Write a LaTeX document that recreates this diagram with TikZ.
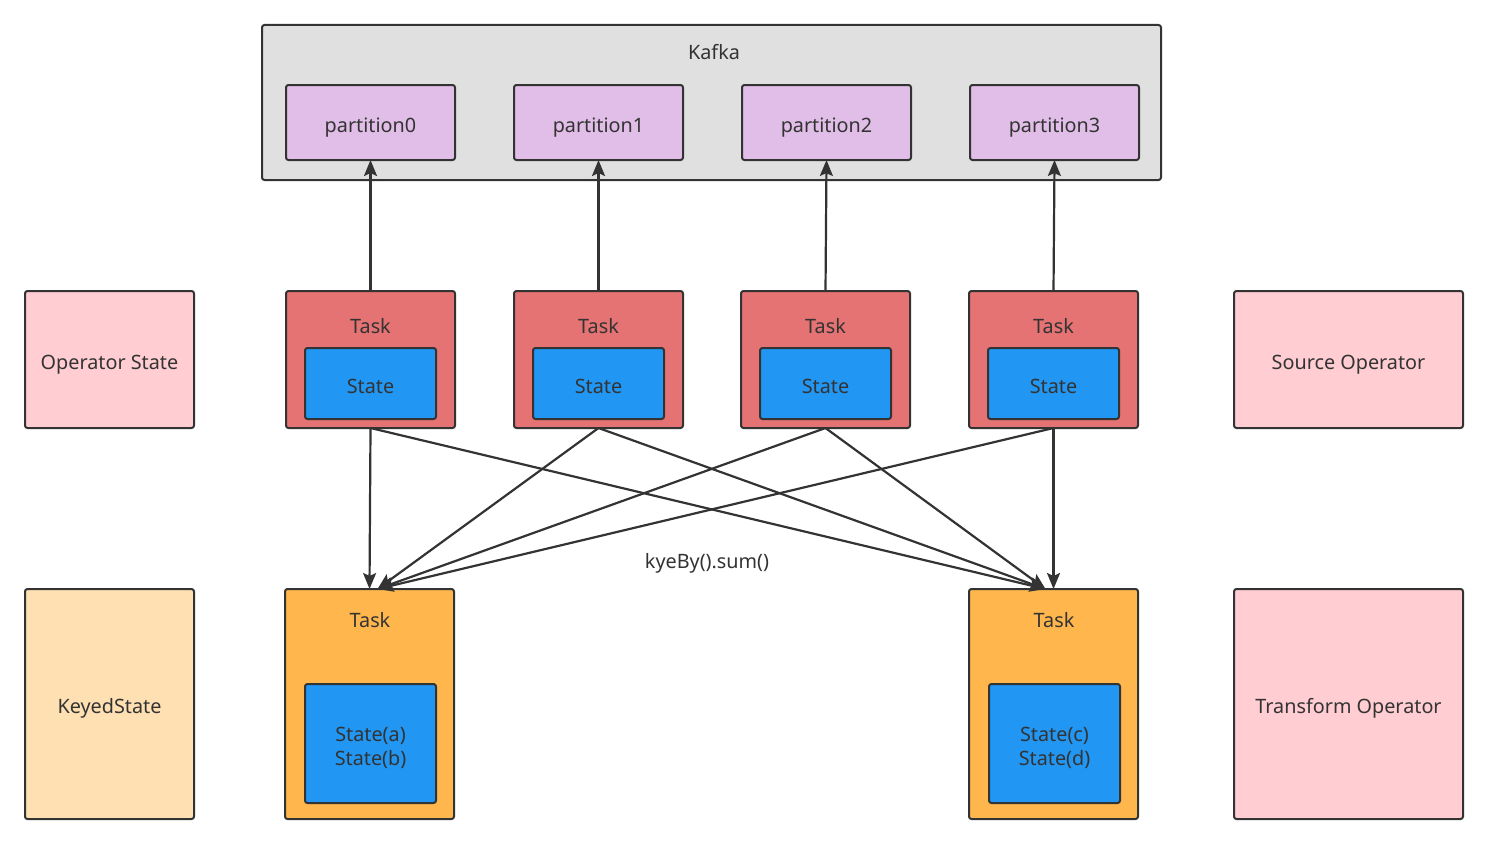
\documentclass[tikz,border=0pt]{standalone}
\usepackage{fontspec}
\setmainfont{Noto Sans}
\usetikzlibrary{arrows.meta,calc}
\definecolor{kafkabg}{HTML}{E0E0E0}
\definecolor{partbg}{HTML}{E1BEE7}
\definecolor{taskred}{HTML}{E57373}
\definecolor{stateblue}{HTML}{2196F3}
\definecolor{taskorange}{HTML}{FFB74D}
\definecolor{pinkbg}{HTML}{FFCDD2}
\definecolor{peachbg}{HTML}{FFE0B2}
\definecolor{ink}{HTML}{333333}
\tikzset{
  box/.style={draw=ink, line width=2pt, rounded corners=2.5pt, inner sep=0pt, outer sep=0pt, text=ink,
    font=\fontsize{19.8}{23.5}\selectfont, text height=19pt, text depth=0pt},
  partbox/.style={box, fill=partbg, minimum width=169pt, minimum height=75pt},
  redtask/.style={box, fill=taskred, minimum width=169pt, minimum height=137pt},
  statebox/.style={box, fill=stateblue, minimum width=131pt},
  oratask/.style={box, fill=taskorange, minimum width=169pt, minimum height=230pt},
  sidebox/.style={box, fill=pinkbg},
  lbl/.style={text=ink, font=\fontsize{19.8}{23.5}\selectfont, inner sep=0pt, anchor=base},
  conn/.style={draw=ink, line width=2.2pt, -{Stealth[length=16pt,width=13pt,inset=3pt]}},
}
\begin{document}
\begin{tikzpicture}[x=1pt,y=-1pt]
\useasboundingbox (0,0) rectangle (1487,843);
% Kafka
\node[box, fill=kafkabg, minimum width=899pt, minimum height=155pt] (kafka) at (711.5,102.5) {};
\node[lbl] (kafkalbl) at (714,59.5) {Kafka};
\node[partbox] (p0) at (370.5,122.5) {partition0};
\node[partbox] (p1) at (598.5,122.5) {partition1};
\node[partbox] (p2) at (826.5,122.5) {partition2};
\node[partbox] (p3) at (1054.5,122.5) {partition3};
% red tasks
\foreach \i/\x in {0/370.5,1/598.5,2/825.5,3/1053.5}{
  \node[redtask] (t\i) at (\x,359.5) {};
  \node[lbl] (tl\i) at (\x,333) {Task};
  \node[statebox, minimum height=71pt] (s\i) at (\x,383.5) {State};
}
% side boxes
\node[sidebox, minimum width=169pt, minimum height=137pt] (opstate) at (109.5,359.5) {Operator State};
\node[box, fill=peachbg, minimum width=169pt, minimum height=230pt] (keyed) at (109.5,704) {KeyedState};
\node[sidebox, minimum width=229pt, minimum height=137pt] (srcop) at (1348.5,359.5) {Source Operator};
\node[sidebox, minimum width=229pt, minimum height=230pt] (trop) at (1348.5,704) {Transform Operator};
% bottom tasks
\node[oratask] (b0) at (369.5,704) {};
\node[lbl] (bl0) at (370,627) {Task};
\node[statebox, minimum height=119pt] (bs0) at (370.5,743.5) {};
\node[lbl] (bs0a) at (370.5,741.5) {State(a)};
\node[lbl] (bs0b) at (370.5,765) {State(b)};
\node[oratask] (b1) at (1053.5,704) {};
\node[lbl] (bl1) at (1054,627) {Task};
\node[statebox, minimum height=119pt] (bs1) at (1054.5,743.5) {};
\node[lbl] (bs1c) at (1054.5,741.5) {State(c)};
\node[lbl] (bs1d) at (1054.5,765) {State(d)};
% label
\node[lbl] (kb) at (707,568) {kyeBy().sum()};
% up arrows
\foreach \i in {0,1,2,3}{ \draw[conn] (t\i.north) -- (p\i.south); }
% cross arrows
\coordinate (b0in) at ($(b0.north)+(8,0)$);
\coordinate (b1in) at ($(b1.north)+(-8,0)$);
\draw[conn] (t0.south) -- (b0.north);
\draw[conn] (t0.south) -- (b1in);
\draw[conn] (t1.south) -- (b0in);
\draw[conn] (t1.south) -- (b1in);
\draw[conn] (t2.south) -- (b0in);
\draw[conn] (t2.south) -- (b1in);
\draw[conn] (t3.south) -- (b0in);
\draw[conn] (t3.south) -- (b1.north);
\end{tikzpicture}
\end{document}
